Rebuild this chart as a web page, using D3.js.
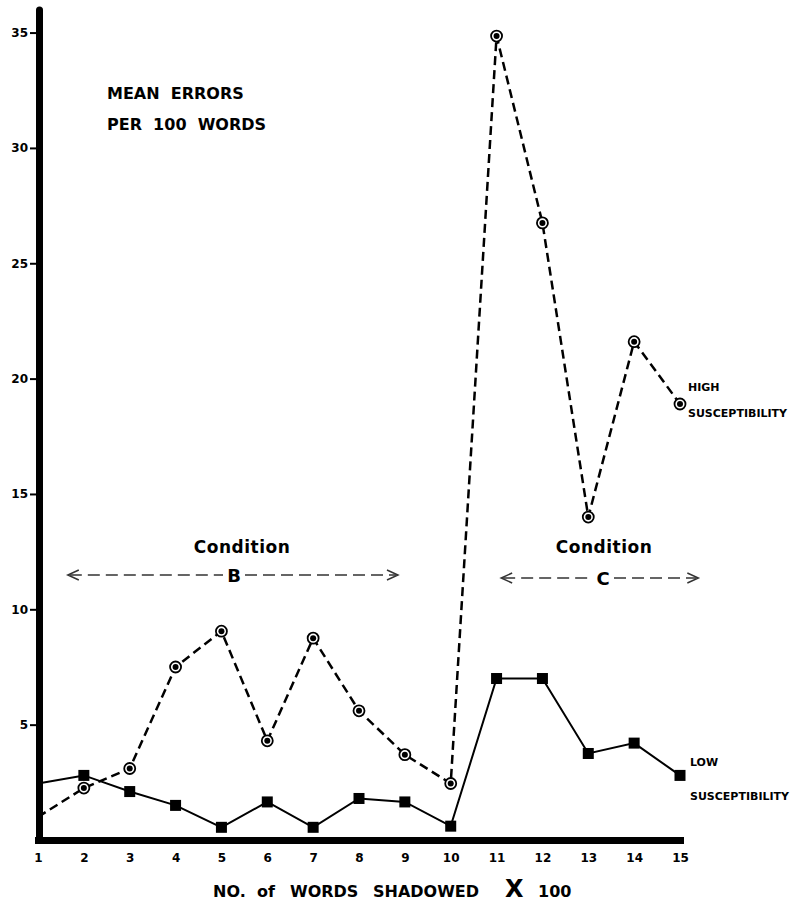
<!DOCTYPE html>
<html>
<head>
<meta charset="utf-8">
<script src="https://cdn.jsdelivr.net/npm/d3@7"></script>
<style>
  body { margin: 0; background: #fff; }
  svg text { font-family: "DejaVu Sans", sans-serif; font-weight: bold; fill: #000; white-space: pre; }
</style>
</head>
<body>
<div class="container"></div>
<script>
// number of words shadowed (x 100)
const wordsShadowed = [1, 2, 3, 4, 5, 6, 7, 8, 9, 10, 11, 12, 13, 14, 15]
// mean errors per 100 words
const highErrors = [1.0, 2.25, 3.1, 7.5, 9.05, 4.3, 8.75, 5.6, 3.7, 2.45, 34.85, 26.75, 14.0, 21.6, 18.9]
const lowErrors = [2.45, 2.8, 2.1, 1.5, 0.55, 1.65, 0.55, 1.8, 1.65, 0.6, 7.0, 7.0, 3.75, 4.2, 2.8]
const yTicks = [5, 10, 15, 20, 25, 30, 35]
const xTicks = [1, 2, 3, 4, 5, 6, 7, 8, 9, 10, 11, 12, 13, 14, 15]
// condition spans (in words shadowed units)
const conditionNames = ["B", "C"]
const conditionFrom = [1.65, 11.1]
const conditionTo = [8.85, 15.4]

const width = 800
const height = 905

let svg = d3.select(".container")
    .append("svg")
    .attr("width", width)
    .attr("height", height)
    .attr("viewBox", [0, 0, width, height])

let x = d3.scaleLinear().domain([1, 15]).range([38, 680])
let y = d3.scaleLinear().domain([0, 36]).range([840, 9.5])

// y axis
let yAxis = svg.append("g")
    .attr("transform", `translate(${x(1) + 1}, 0)`)
    .call(d3.axisLeft(y).tickValues(yTicks).tickSize(9).tickPadding(2).tickSizeOuter(0))
yAxis.select(".domain").attr("stroke", "#000").attr("stroke-width", 7).attr("stroke-linecap", "round")
yAxis.selectAll(".tick line").attr("stroke", "#000").attr("stroke-width", 2)
yAxis.selectAll(".tick text").style("font-size", "12px").attr("fill", "#000")

// x axis
let xAxis = svg.append("g")
    .attr("transform", `translate(0, ${y(0)})`)
    .call(d3.axisBottom(x).tickValues(xTicks).tickSize(0).tickPadding(13).tickSizeOuter(0))
xAxis.select(".domain").attr("stroke", "#000").attr("stroke-width", 7).attr("stroke-linecap", "square")
xAxis.selectAll(".tick text").style("font-size", "12px").attr("fill", "#000")

// lines
let line = d3.line().x(d => x(d[0])).y(d => y(d[1]))
let highData = wordsShadowed.map((w, i) => [w, highErrors[i]])
let lowData = wordsShadowed.map((w, i) => [w, lowErrors[i]])

svg.append("path")
    .datum(lowData)
    .attr("fill", "none")
    .attr("stroke", "#000")
    .attr("stroke-width", 2)
    .attr("d", line)

svg.append("path")
    .datum(highData)
    .attr("fill", "none")
    .attr("stroke", "#000")
    .attr("stroke-width", 2.5)
    .attr("stroke-dasharray", "9,5")
    .attr("d", line)

// markers (none at the first point, which sits on the axis)
svg.append("g")
    .selectAll("rect")
    .data(lowData.slice(1))
    .enter()
    .append("rect")
    .attr("x", d => x(d[0]) - 5.5)
    .attr("y", d => y(d[1]) - 5.5)
    .attr("width", 11)
    .attr("height", 11)
    .attr("fill", "#000")

let rings = svg.append("g")
    .selectAll("g")
    .data(highData.slice(1))
    .enter()
    .append("g")
    .attr("transform", d => `translate(${x(d[0])}, ${y(d[1])})`)
rings.append("circle").attr("r", 5.5).attr("fill", "#fff").attr("stroke", "#000").attr("stroke-width", 1.8)
rings.append("circle").attr("r", 3).attr("fill", "#000")

// title at top left
svg.append("text").attr("x", 107).attr("y", 99).style("font-size", "16px").text("MEAN  ERRORS")
svg.append("text").attr("x", 107).attr("y", 130).style("font-size", "16px").text("PER  100  WORDS")

// series labels
svg.append("text").attr("x", 688).attr("y", 391).style("font-size", "11px").text("HIGH")
svg.append("text").attr("x", 688).attr("y", 417).style("font-size", "11px").text("SUSCEPTIBILITY")
svg.append("text").attr("x", 690).attr("y", 766).style("font-size", "11px").text("LOW")
svg.append("text").attr("x", 690).attr("y", 800).style("font-size", "11px").text("SUSCEPTIBILITY")

// condition spans
conditionNames.forEach((name, i) => {
    let x0 = x(conditionFrom[i])
    let x1 = x(conditionTo[i])
    let ay = i == 0 ? 575 : 578
    let mid = i == 0 ? 234 : 603
    let g = svg.append("g")

    g.append("text")
        .attr("x", i == 0 ? 242 : 604)
        .attr("y", 553)
        .attr("text-anchor", "middle")
        .style("font-size", "17px")
        .style("letter-spacing", "0.5px")
        .text("Condition")

    g.append("text")
        .attr("x", mid)
        .attr("y", ay + 7)
        .attr("text-anchor", "middle")
        .style("font-size", "18px")
        .text(name)

    g.append("line")
        .attr("x1", x0 + 2).attr("x2", mid - 11)
        .attr("y1", ay).attr("y2", ay)
        .attr("stroke", "#333").attr("stroke-width", 1.5).attr("stroke-dasharray", "12,6")
    g.append("line")
        .attr("x1", mid + 11).attr("x2", x1 - 2)
        .attr("y1", ay).attr("y2", ay)
        .attr("stroke", "#333").attr("stroke-width", 1.5).attr("stroke-dasharray", "12,6")

    g.append("path")
        .attr("d", `M${x0 + 11},${ay - 5}L${x0},${ay}L${x0 + 11},${ay + 5}`)
        .attr("fill", "none").attr("stroke", "#333").attr("stroke-width", 1.5)
    g.append("path")
        .attr("d", `M${x1 - 11},${ay - 5}L${x1},${ay}L${x1 - 11},${ay + 5}`)
        .attr("fill", "none").attr("stroke", "#333").attr("stroke-width", 1.5)
})

// x axis title
let title = svg.append("text").attr("y", 897).style("font-size", "16px")
title.append("tspan").attr("x", 213).text("NO.")
title.append("tspan").attr("x", 257).text("of")
title.append("tspan").attr("x", 290).text("WORDS")
title.append("tspan").attr("x", 373).text("SHADOWED")
title.append("tspan").attr("x", 505).style("font-size", "24px").text("X")
title.append("tspan").attr("x", 538).text("100")
</script>
</body>
</html>
